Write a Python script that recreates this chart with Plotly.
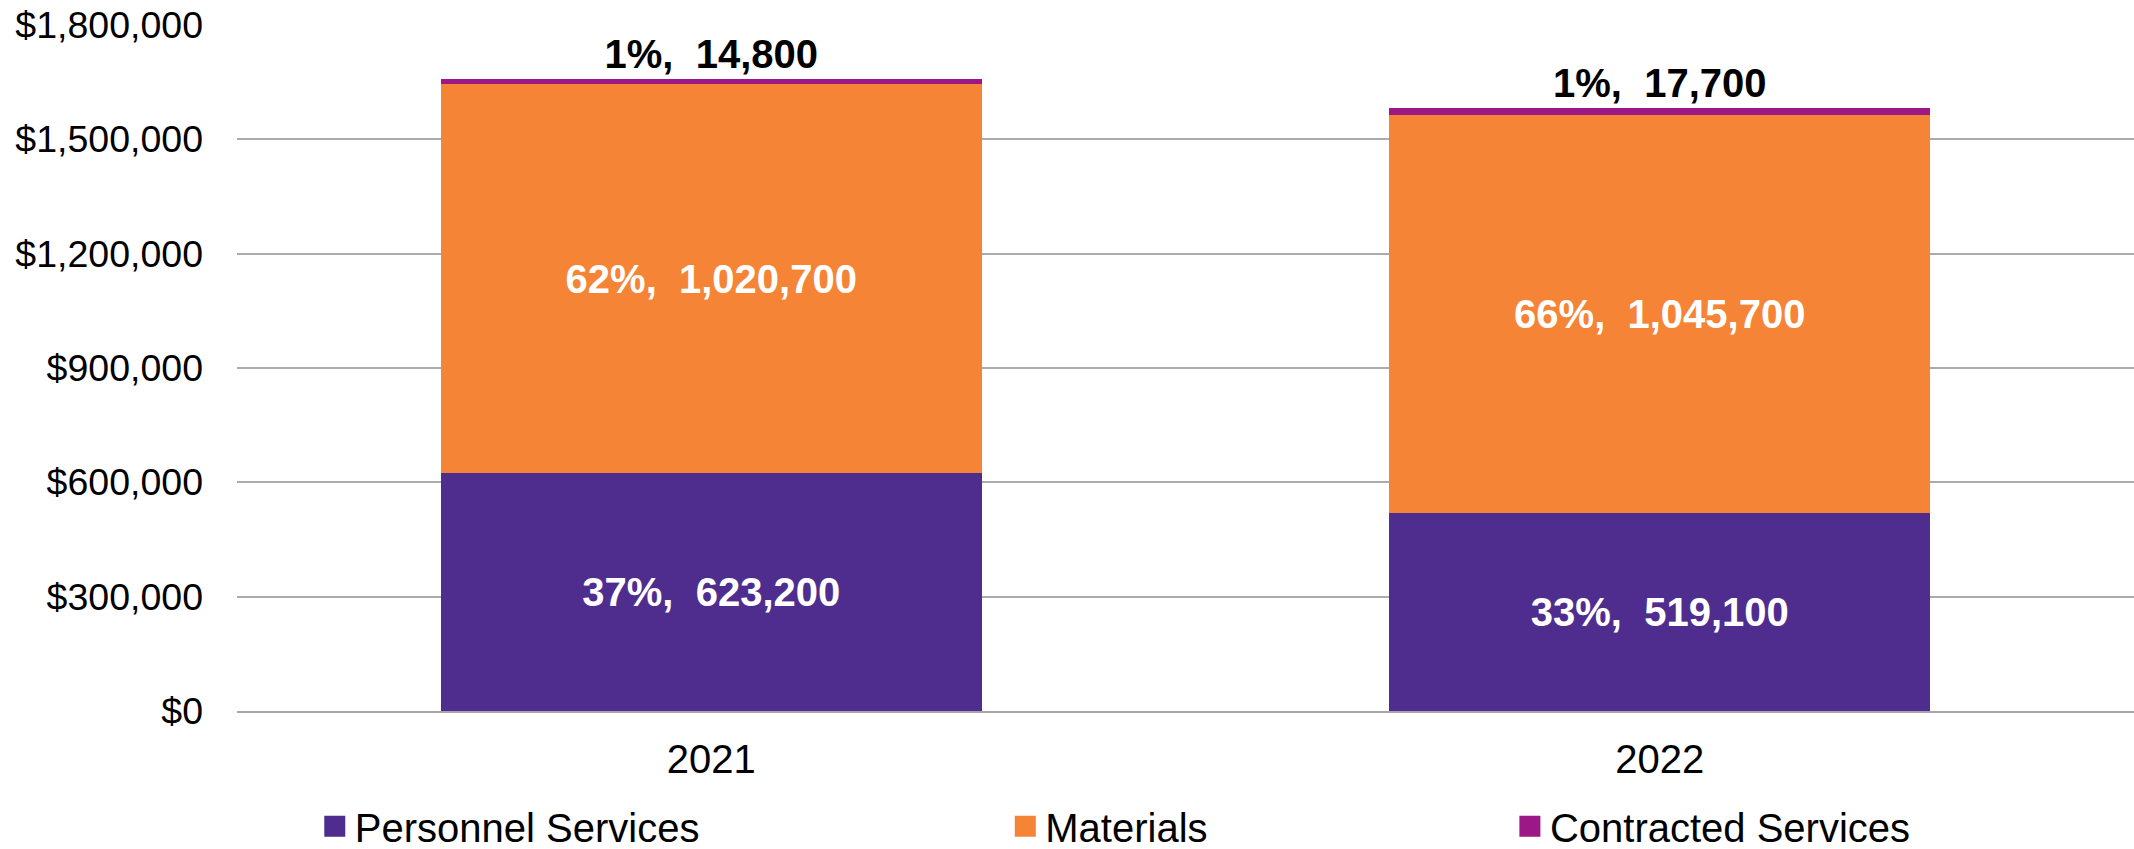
import plotly.graph_objects as go

# Annual expenditure by category
years = ["2021", "2022"]
personnel = [623200, 519100]
materials = [1020700, 1045700]
contracted = [14800, 17700]

personnel_pct = [37, 33]
materials_pct = [62, 66]
contracted_pct = [1, 1]

series_names = ["Personnel Services", "Materials", "Contracted Services"]
series_colors = ["#4F2D8E", "#F58436", "#9C1886"]

tick_vals = [0, 300000, 600000, 900000, 1200000, 1500000, 1800000]
tick_text = ["$0", "$300,000", "$600,000", "$900,000",
             "$1,200,000", "$1,500,000", "$1,800,000"]

FONT = "Liberation Sans, Arial, sans-serif"
FS = 40


def label(pcts, vals):
    return [f"{p}%,  {v:,}" for p, v in zip(pcts, vals)]


fig = go.Figure()

fig.add_trace(go.Bar(
    x=years, y=personnel, name=series_names[0],
    marker=dict(color=series_colors[0], line=dict(width=0)),
    text=label(personnel_pct, personnel), textposition="inside",
    insidetextanchor="middle",
    textfont=dict(family=FONT, size=FS, color="white", weight="bold"),
    showlegend=False,
))
fig.add_trace(go.Bar(
    x=years, y=materials, name=series_names[1],
    marker=dict(color=series_colors[1], line=dict(width=0)),
    text=label(materials_pct, materials), textposition="inside",
    insidetextanchor="middle",
    textfont=dict(family=FONT, size=FS, color="white", weight="bold"),
    showlegend=False,
))
fig.add_trace(go.Bar(
    x=years, y=contracted, name=series_names[2],
    marker=dict(color=series_colors[2], line=dict(width=0)),
    text=label(contracted_pct, contracted), textposition="outside",
    textfont=dict(family=FONT, size=FS, color="black", weight="bold"),
    cliponaxis=False,
    showlegend=False,
))

# Legend entries with larger square swatches
for i, (nm, col) in enumerate(zip(series_names, series_colors)):
    fig.add_trace(go.Scatter(
        x=[None], y=[None], mode="markers", name=nm,
        marker=dict(symbol="square", size=16, color=col,
                    line=dict(color=col, width=5)),
        legend=f"legend{i + 2}", showlegend=True, hoverinfo="skip",
    ))

legend_common = dict(
    orientation="h", yanchor="middle", y=-0.168, xanchor="left",
    itemsizing="trace",
    font=dict(family=FONT, size=FS, color="black"),
    bgcolor="rgba(0,0,0,0)",
)

fig.update_layout(
    width=2134, height=849,
    margin=dict(l=237, r=0, t=25, b=138, autoexpand=False),
    barmode="stack", bargap=0.43,
    plot_bgcolor="white", paper_bgcolor="white",
    font=dict(family=FONT, size=FS, color="black"),
    showlegend=True,
    legend2=dict(x=0.041, **legend_common),
    legend3=dict(x=0.405, **legend_common),
    legend4=dict(x=0.671, **legend_common),
    xaxis=dict(
        showgrid=False, showline=True, linecolor="#A6A6A6", linewidth=2,
        ticks="", tickfont=dict(family=FONT, size=FS, color="black"),
        ticklabelstandoff=12,
    ),
    yaxis=dict(
        range=[0, 1800000], tickmode="array", tickvals=tick_vals, ticktext=tick_text,
        showgrid=True, gridcolor="#ABABAB", gridwidth=1.5,
        zeroline=False, showline=False, ticks="",
        tickfont=dict(family=FONT, size=37.5, color="black"),
        ticklabelstandoff=33,
    ),
)
fig.update_traces(constraintext="none", selector=dict(type="bar"))

fig.write_html("out.html")
